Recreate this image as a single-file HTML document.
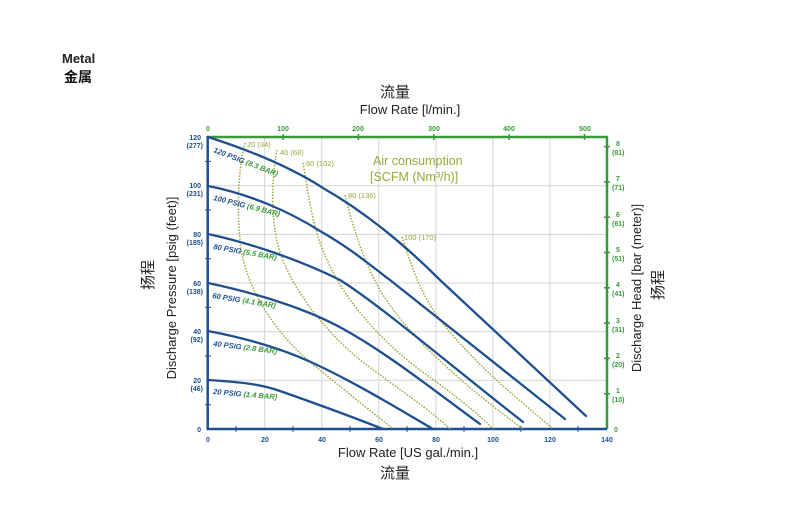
<!DOCTYPE html>
<html><head><meta charset="utf-8"><style>
body{margin:0;background:#fff;width:806px;height:506px;overflow:hidden}
svg{display:block}
text{font-family:"Liberation Sans","Noto Sans CJK SC",sans-serif}
</style></head><body>
<svg width="806" height="506" viewBox="0 0 806 506">
<text x="62" y="63" font-size="13" font-weight="bold" fill="#222">Metal</text>
<text x="64" y="82" font-size="14" font-weight="bold" fill="#111">金属</text>
<text x="395" y="97" font-size="15" text-anchor="middle" fill="#222">流量</text>
<text x="410" y="114" font-size="13" text-anchor="middle" fill="#222">Flow Rate  [l/min.]</text>
<text x="408" y="457" font-size="13" text-anchor="middle" fill="#222">Flow Rate [US gal./min.]</text>
<text x="395" y="478" font-size="15" text-anchor="middle" fill="#222">流量</text>
<text transform="translate(176,288) rotate(-90)" font-size="13" text-anchor="middle" fill="#222">Discharge Pressure [psig (feet)]</text>
<text transform="translate(153,275) rotate(-90)" font-size="15" text-anchor="middle" fill="#222">扬程</text>
<text transform="translate(641,288) rotate(-90)" font-size="13" text-anchor="middle" fill="#222">Discharge Head [bar (meter)]</text>
<text transform="translate(663,285) rotate(-90)" font-size="15" text-anchor="middle" fill="#222">扬程</text>
<g stroke="#d4d4d4" stroke-width="1">
<line x1="264.7" y1="137" x2="264.7" y2="429"/><line x1="321.8" y1="137" x2="321.8" y2="429"/><line x1="378.8" y1="137" x2="378.8" y2="429"/><line x1="435.9" y1="137" x2="435.9" y2="429"/><line x1="492.9" y1="137" x2="492.9" y2="429"/><line x1="550" y1="137" x2="550" y2="429"/>
<line x1="208" y1="380.3" x2="607" y2="380.3"/><line x1="208" y1="331.7" x2="607" y2="331.7"/><line x1="208" y1="283" x2="607" y2="283"/><line x1="208" y1="234.4" x2="607" y2="234.4"/><line x1="208" y1="185.7" x2="607" y2="185.7"/>
</g>
<line x1="207" y1="137" x2="608" y2="137" stroke="#3a9a3a" stroke-width="2.5"/>
<line x1="607" y1="137" x2="607" y2="429" stroke="#3a9a3a" stroke-width="2.5"/>
<g stroke="#3a9a3a" stroke-width="1.5">
<line x1="283" y1="134" x2="283" y2="140"/><line x1="358.4" y1="134" x2="358.4" y2="140"/><line x1="433.8" y1="134" x2="433.8" y2="140"/><line x1="509.1" y1="134" x2="509.1" y2="140"/><line x1="584.5" y1="134" x2="584.5" y2="140"/>
<line x1="604" y1="393.7" x2="610" y2="393.7"/><line x1="604" y1="358.4" x2="610" y2="358.4"/><line x1="604" y1="323.1" x2="610" y2="323.1"/><line x1="604" y1="287.8" x2="610" y2="287.8"/><line x1="604" y1="252.5" x2="610" y2="252.5"/><line x1="604" y1="217.2" x2="610" y2="217.2"/><line x1="604" y1="181.9" x2="610" y2="181.9"/><line x1="604" y1="146.6" x2="610" y2="146.6"/>
</g>
<g font-size="7" font-weight="bold" fill="#3a9a3a" text-anchor="middle">
<text x="208" y="131">0</text><text x="283" y="131">100</text><text x="358" y="131">200</text><text x="434" y="131">300</text><text x="509" y="131">400</text><text x="585" y="131">500</text>
</g>
<g font-size="7" font-weight="bold" fill="#3a9a3a">
<text x="614" y="432">0</text>
<text x="616" y="393">1</text><text x="612" y="402">(10)</text>
<text x="616" y="358">2</text><text x="612" y="367">(20)</text>
<text x="616" y="323">3</text><text x="612" y="332">(31)</text>
<text x="616" y="287">4</text><text x="612" y="296">(41)</text>
<text x="616" y="252">5</text><text x="612" y="261">(51)</text>
<text x="616" y="217">6</text><text x="612" y="226">(61)</text>
<text x="616" y="181">7</text><text x="612" y="190">(71)</text>
<text x="616" y="146">8</text><text x="612" y="155">(81)</text>
</g>
<line x1="207.7" y1="136" x2="207.7" y2="430" stroke="#1f4f8f" stroke-width="2.5"/>
<line x1="207" y1="429" x2="607" y2="429" stroke="#1f4f8f" stroke-width="2.5"/>
<g stroke="#1f4f8f" stroke-width="1">
<line x1="236" y1="426" x2="236" y2="432"/><line x1="293" y1="426" x2="293" y2="432"/><line x1="350" y1="426" x2="350" y2="432"/><line x1="407" y1="426" x2="407" y2="432"/><line x1="464" y1="426" x2="464" y2="432"/><line x1="521" y1="426" x2="521" y2="432"/><line x1="578" y1="426" x2="578" y2="432"/>
<line x1="205" y1="404.7" x2="211" y2="404.7"/><line x1="205" y1="356" x2="211" y2="356"/><line x1="205" y1="307.4" x2="211" y2="307.4"/><line x1="205" y1="258.7" x2="211" y2="258.7"/><line x1="205" y1="210" x2="211" y2="210"/><line x1="205" y1="161.4" x2="211" y2="161.4"/>
</g>
<g font-size="7" font-weight="bold" fill="#1f4f8f" text-anchor="middle">
<text x="208" y="442">0</text><text x="265" y="442">20</text><text x="322" y="442">40</text><text x="379" y="442">60</text><text x="436" y="442">80</text><text x="493" y="442">100</text><text x="550" y="442">120</text><text x="607" y="442">140</text>
</g>
<g font-size="7" font-weight="bold" fill="#1f4f8f" text-anchor="end">
<text x="201" y="432">0</text>
<text x="201" y="383">20</text><text x="203" y="391">(46)</text>
<text x="201" y="334">40</text><text x="203" y="342">(92)</text>
<text x="201" y="286">60</text><text x="203" y="294">(138)</text>
<text x="201" y="237">80</text><text x="203" y="245">(185)</text>
<text x="201" y="188">100</text><text x="203" y="196">(231)</text>
<text x="201" y="140">120</text><text x="203" y="148">(277)</text>
</g>
<g fill="none" stroke="#9aa83a" stroke-width="1.5" stroke-dasharray="1.5 1.5">
<path d="M245,143 C240,160 236,200 240,240 C244,290 280,340 320,370 C350,395 380,418 393,429"/>
<path d="M277,150 C272,175 268,230 285,265 C300,300 330,335 360,360 C400,390 430,410 450,429"/>
<path d="M303,163 C308,190 312,230 328,262 C345,300 380,340 420,370 C455,395 480,415 493,429"/>
<path d="M345,195 C350,215 360,255 380,290 C410,340 470,390 523,429"/>
<path d="M402,237 C410,260 418,290 440,320 C480,370 520,400 553,429"/>
</g>
<g font-size="7.5" fill="#9aa83a">
<text x="247" y="147">20 (34)</text><text x="280" y="155">40 (68)</text><text x="306" y="166">60 (102)</text><text x="348" y="198">80 (136)</text><text x="404" y="240">100 (170)</text>
</g>
<text x="373" y="165" font-size="12.5" fill="#9aa83a">Air consumption</text>
<text x="370" y="181" font-size="12.5" fill="#9aa83a">[SCFM (Nm³/h)]</text>
<g fill="none" stroke="#1f4f8f" stroke-width="2.3" stroke-linecap="round">
<path d="M208,137 C255,152 295,170 323,188 C370,215 410,250 440,280 L586,416"/>
<path d="M208,186 C250,194 290,212 320,231 C350,248 370,265 390,280 L565,419"/>
<path d="M208,234 C250,243 300,260 340,280 C380,305 450,365 523,422"/>
<path d="M208,283 C260,294 310,310 345,330 C390,355 440,395 480,424"/>
<path d="M208,331 C250,339 285,350 313,363 C360,385 400,410 433,429"/>
<path d="M208,380 C240,382 260,384 280,391 C320,405 355,418 383,429"/>
</g>
<g font-size="7.5" font-weight="bold" font-style="italic">
<text transform="translate(213,152) rotate(21)"><tspan fill="#1f4f8f">120 PSIG </tspan><tspan fill="#3a9a3a">(8.3 BAR)</tspan></text>
<text transform="translate(213,200) rotate(14)"><tspan fill="#1f4f8f">100 PSIG </tspan><tspan fill="#3a9a3a">(6.9 BAR)</tspan></text>
<text transform="translate(213,249) rotate(10)"><tspan fill="#1f4f8f">80 PSIG </tspan><tspan fill="#3a9a3a">(5.5 BAR)</tspan></text>
<text transform="translate(212,298) rotate(9)"><tspan fill="#1f4f8f">60 PSIG </tspan><tspan fill="#3a9a3a">(4.1 BAR)</tspan></text>
<text transform="translate(213,346) rotate(7)"><tspan fill="#1f4f8f">40 PSIG </tspan><tspan fill="#3a9a3a">(2.8 BAR)</tspan></text>
<text transform="translate(213,394) rotate(5)"><tspan fill="#1f4f8f">20 PSIG </tspan><tspan fill="#3a9a3a">(1.4 BAR)</tspan></text>
</g>
</svg>
</body></html>
